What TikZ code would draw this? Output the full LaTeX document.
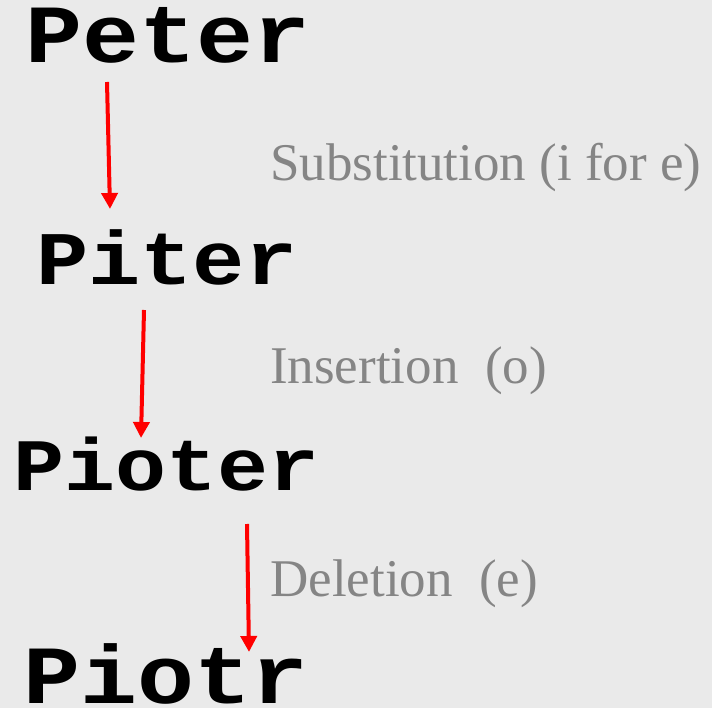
\documentclass[tikz,border=0pt]{standalone}
\usepackage{fontspec}
\setmainfont{Liberation Serif}
\newfontfamily\wordfont{Liberation Mono}
\usetikzlibrary{arrows.meta}
\definecolor{bg}{HTML}{EAEAEA}
\definecolor{lblgray}{HTML}{858585}
\newcommand{\squash}[1]{\scalebox{1}[0.87]{#1}}
\begin{document}
\begin{tikzpicture}[x=1pt,y=-1pt,
  word/.style={inner sep=0pt,anchor=base west,font=\wordfont\bfseries\fontsize{#1}{#1}\selectfont},
  lbl/.style={inner sep=0pt,anchor=base west,text=lblgray,font=\fontsize{53}{53}\selectfont},
  redarrow/.style={draw=red,line width=4pt,-{Triangle[length=16pt,width=16pt]}}]
\fill[bg] (0,0) rectangle (712,708);
\useasboundingbox (0,0) rectangle (712,708);
\node[word=95] (w1) at (25,63) {\squash{Peter}};
\node[word=87] (w2) at (36,285) {\squash{Piter}};
\node[word=85] (w3) at (13,490) {\squash{Pioter}};
\node[word=95] (w4) at (23,703) {\squash{Piotr}};
\node[lbl] (l1) at (270,181) {Substitution (i for e)};
\node[lbl] (l2) at (270,384) {Insertion\ \ (o)};
\node[lbl] (l3) at (270,596) {Deletion\ \ (e)};
\coordinate (a1s) at (107,82); \coordinate (a1e) at (110,209);
\coordinate (a2s) at (144,310); \coordinate (a2e) at (141,438);
\coordinate (a3s) at (247,524); \coordinate (a3e) at (249,652);
\draw[redarrow] (a1s) -- (a1e);
\draw[redarrow] (a2s) -- (a2e);
\draw[redarrow] (a3s) -- (a3e);
\end{tikzpicture}
\end{document}
